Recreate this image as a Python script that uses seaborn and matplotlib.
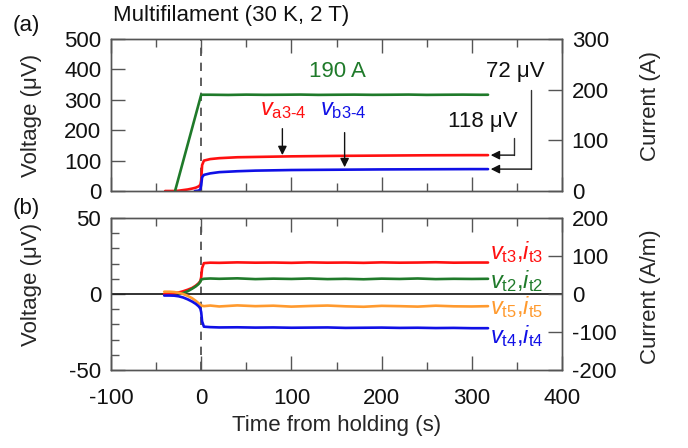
import matplotlib
matplotlib.use("Agg")
import matplotlib.pyplot as plt
import seaborn as sns
import pandas as pd
from matplotlib.ticker import MultipleLocator

# ---------------- data ----------------
# Panel (a): current (right axis, A)
cur_t = [-29, 0, 10, 30, 50, 70, 90, 110, 130, 150, 170, 190, 210, 230, 250, 270, 290, 310, 318]
cur_A = [0, 190, 190, 189.6, 190.2, 189.8, 190, 190.3, 189.7, 190, 190.2, 189.8, 190, 190.3, 189.7, 190, 190.2, 189.9, 190]

# Panel (a): voltages (left axis, uV)
va_t = [-40, -30, -25, -20, -15, -10, -6, -3, -1, 0, 1, 3, 10, 20, 40, 60, 100, 150, 200, 250, 300, 318]
va_v = [0, 0, 1, 3, 5, 8, 11, 15, 20, 35, 85, 100, 105, 108, 111, 112, 114, 115.5, 116.5, 117.5, 118, 118]
vb_t = [-7, -3, -1, 0, 1, 3, 10, 20, 40, 60, 100, 150, 200, 250, 300, 318]
vb_v = [0, 1, 5, 20, 45, 53, 58, 62, 65, 67, 69, 70, 71, 71.5, 72, 72]

# Panel (b): tape voltages (left axis, uV)
t_flat = [20, 40, 60, 80, 100, 120, 140, 160, 180, 200, 220, 240, 260, 280, 300, 318]
t3_t = [-41, -35, -30, -25, -20, -15, -10, -6, -3, -1, 0, 1, 3, 10] + t_flat
t3_v = [0, 0.2, 0.5, 1, 1.8, 2.8, 4, 5.5, 7, 8.5, 11, 17, 20.3, 20.6,
        20.5, 20.8, 20.6, 20.7, 20.5, 20.8, 20.6, 20.7, 20.5, 20.8, 20.6, 20.7, 20.9, 20.6, 20.7, 20.7]
t2_t = [-24, -20, -15, -10, -6, -3, -1, 0, 3, 10] + t_flat
t2_v = [0, 0.6, 1.8, 3.5, 5, 6.5, 8, 9.5, 10, 10.2,
        10, 10.3, 9.8, 10.1, 9.9, 10.2, 9.8, 10, 9.7, 10.1, 9.9, 10.2, 9.8, 10, 9.9, 10]
t5_t = [-41, -35, -30, -25, -20, -15, -10, -6, -3, -1, 0, 3, 10] + t_flat
t5_v = [1.5, 1.5, 1.3, 0.8, 0, -1.2, -2.8, -4.5, -6, -7, -7.5, -8, -7.6,
        -8.2, -7.5, -8, -7.7, -8.3, -7.9, -7.6, -8.1, -8.4, -7.8, -8, -8.3, -7.7, -8.1, -8.2, -8]
t4_t = [-41, -35, -30, -25, -20, -15, -10, -6, -3, -1, 0, 1, 3, 10] + t_flat
t4_v = [-1, -1, -1.1, -1.5, -2.3, -3.5, -5, -6.5, -8, -9.5, -12, -18, -21.5, -21.8,
        -22, -21.9, -22.1, -22, -22.2, -22.1, -22, -22.3, -22.2, -22.1, -22.3, -22.2, -22.4, -22.3, -22.5, -22.5]

# ---------------- style ----------------
sns.set_style("ticks")
plt.rcParams["font.family"] = ["Liberation Sans", "DejaVu Sans"]
plt.rcParams["axes.unicode_minus"] = False
plt.rcParams["mathtext.fontset"] = "custom"
plt.rcParams["mathtext.rm"] = "Liberation Sans"
plt.rcParams["mathtext.it"] = "Liberation Sans:italic"
plt.rcParams["mathtext.bf"] = "Liberation Sans:bold"

FS = 16
SP = "#555555"
RED, GREEN, BLUE, ORANGE = "#ff1010", "#1f7a2a", "#1010e6", "#ff9a2e"
LW = 1.9

fig = plt.figure(figsize=(6.88, 4.48), dpi=100)
axA = fig.add_axes([111 / 688, 1 - 191 / 448, 451 / 688, 152 / 448])
axB = fig.add_axes([111 / 688, 1 - 370 / 448, 451 / 688, 152 / 448])
axA2 = axA.twinx()
axB2 = axB.twinx()

dfA = pd.concat([
    pd.DataFrame({"t": va_t, "v": va_v, "s": "va"}),
    pd.DataFrame({"t": vb_t, "v": vb_v, "s": "vb"}),
])
sns.lineplot(data=dfA, x="t", y="v", hue="s", palette={"va": RED, "vb": BLUE},
             estimator=None, sort=False, lw=LW, legend=False, ax=axA)
sns.lineplot(x=cur_t, y=cur_A, color=GREEN, lw=LW, estimator=None, sort=False, legend=False, ax=axA2)

dfB = pd.concat([
    pd.DataFrame({"t": t3_t, "v": t3_v, "s": "t3"}),
    pd.DataFrame({"t": t2_t, "v": t2_v, "s": "t2"}),
    pd.DataFrame({"t": t5_t, "v": t5_v, "s": "t5"}),
    pd.DataFrame({"t": t4_t, "v": t4_v, "s": "t4"}),
])
sns.lineplot(data=dfB, x="t", y="v", hue="s",
             palette={"t3": RED, "t2": GREEN, "t5": ORANGE, "t4": BLUE},
             estimator=None, sort=False, lw=LW, legend=False, ax=axB)
axB.axhline(0, color="#222222", lw=1.3, zorder=1)

for ax in (axA, axB):
    ax.axvline(0, color="#444444", lw=1.2, ls=(0, (5, 4)), zorder=0)

# axes limits & ticks
for ax in (axA, axB):
    ax.set_xlim(-100, 400)
    ax.xaxis.set_major_locator(MultipleLocator(100))
    ax.xaxis.set_minor_locator(MultipleLocator(50))
axA.set_ylim(0, 500)
axA.yaxis.set_major_locator(MultipleLocator(100))
axA2.set_ylim(0, 300)
axA2.yaxis.set_major_locator(MultipleLocator(100))
axB.set_ylim(-50, 50)
axB.yaxis.set_major_locator(MultipleLocator(50))
axB.yaxis.set_minor_locator(MultipleLocator(10))
axB2.set_ylim(-200, 200)
axB2.yaxis.set_major_locator(MultipleLocator(100))

for ax in (axA, axB, axA2, axB2):
    for sp in ax.spines.values():
        sp.set_color(SP)
        sp.set_linewidth(1.0)
    ax.tick_params(which="both", direction="in", color=SP, width=1.0, labelsize=FS, labelcolor="#111111")
    ax.tick_params(which="major", length=10)
    ax.tick_params(which="minor", length=6)
    ax.set_xlabel("")
    ax.set_ylabel("")

for ax in (axA, axB):
    ax.tick_params(axis="x", which="both", top=True, bottom=True)
    ax.tick_params(axis="y", which="both", left=True, right=False, pad=7)
    ax.tick_params(axis="x", which="major", pad=13)
for ax in (axA2, axB2):
    ax.tick_params(axis="y", which="both", left=False, right=True, pad=7)
axA.tick_params(axis="x", labelbottom=False)

axA.set_ylabel("Voltage (μV)", fontsize=FS)
axB.set_ylabel("Voltage (μV)", fontsize=FS)
axA.yaxis.set_label_coords((42 - 111) / 451, 0.5)
axB.yaxis.set_label_coords((42 - 111) / 451, 0.56)
axA2.set_ylabel("Current (A)", fontsize=FS)
axB2.set_ylabel("Current (A/m)", fontsize=FS)
axA2.yaxis.set_label_coords((640 - 111) / 451, 0.56)
axB2.yaxis.set_label_coords((640 - 111) / 451, 0.48)
axB.set_xlabel("Time from holding (s)", fontsize=FS, labelpad=4)

# ---------------- annotations ----------------
axA.text(151, 394, "190 A", color=GREEN, fontsize=FS, ha="center", va="center")
axA.text(91, 250, r"$v_{\text{a3-4}}$", color=RED, fontsize=FS + 1, ha="center", va="baseline")
axA.text(157, 250, r"$v_{\text{b3-4}}$", color=BLUE, fontsize=FS + 1, ha="center", va="baseline")
arr = dict(arrowstyle="-|>", color="#111111", lw=1.0, mutation_scale=13, shrinkA=0, shrinkB=0)
axA.annotate("", xy=(90, 118), xytext=(90, 205), arrowprops=arr)
axA.annotate("", xy=(159, 78), xytext=(159, 192), arrowprops=arr)

axA.text(381, 394, "72 μV", color="#111111", fontsize=FS, ha="right", va="center")
axA.text(351, 228, "118 μV", color="#111111", fontsize=FS, ha="right", va="center")
axA.plot([347, 347], [175, va_v[-1]], color="#333333", lw=1.0)
axA.annotate("", xy=(321, va_v[-1]), xytext=(347, va_v[-1]), arrowprops=arr)
axA.plot([366, 366], [331, vb_v[-1]], color="#333333", lw=1.0)
axA.annotate("", xy=(321, vb_v[-1]), xytext=(366, vb_v[-1]), arrowprops=arr)
for ln in axA.lines[-2:]:
    ln.set_clip_on(False)

lab_fs = FS + 1
axB.text(320, 27.5, r"$v_{\mathrm{t3}}$,$i_{\mathrm{t3}}$", color=RED, fontsize=lab_fs, ha="left", va="center")
axB.text(320, 8.7, r"$v_{\mathrm{t2}}$,$i_{\mathrm{t2}}$", color=GREEN, fontsize=lab_fs, ha="left", va="center")
axB.text(320, -8.7, r"$v_{\mathrm{t5}}$,$i_{\mathrm{t5}}$", color=ORANGE, fontsize=lab_fs, ha="left", va="center")
axB.text(320, -27.4, r"$v_{\mathrm{t4}}$,$i_{\mathrm{t4}}$", color=BLUE, fontsize=lab_fs, ha="left", va="center")

fig.text(113 / 688, 1 - 15 / 448, "Multifilament (30 K, 2 T)", fontsize=FS, ha="left", va="center", color="#111111")
fig.text(13 / 688, 1 - 25 / 448, "(a)", fontsize=FS, ha="left", va="center", color="#111111")
fig.text(13 / 688, 1 - 208 / 448, "(b)", fontsize=FS, ha="left", va="center", color="#111111")

fig.savefig("out.png", dpi=100)
